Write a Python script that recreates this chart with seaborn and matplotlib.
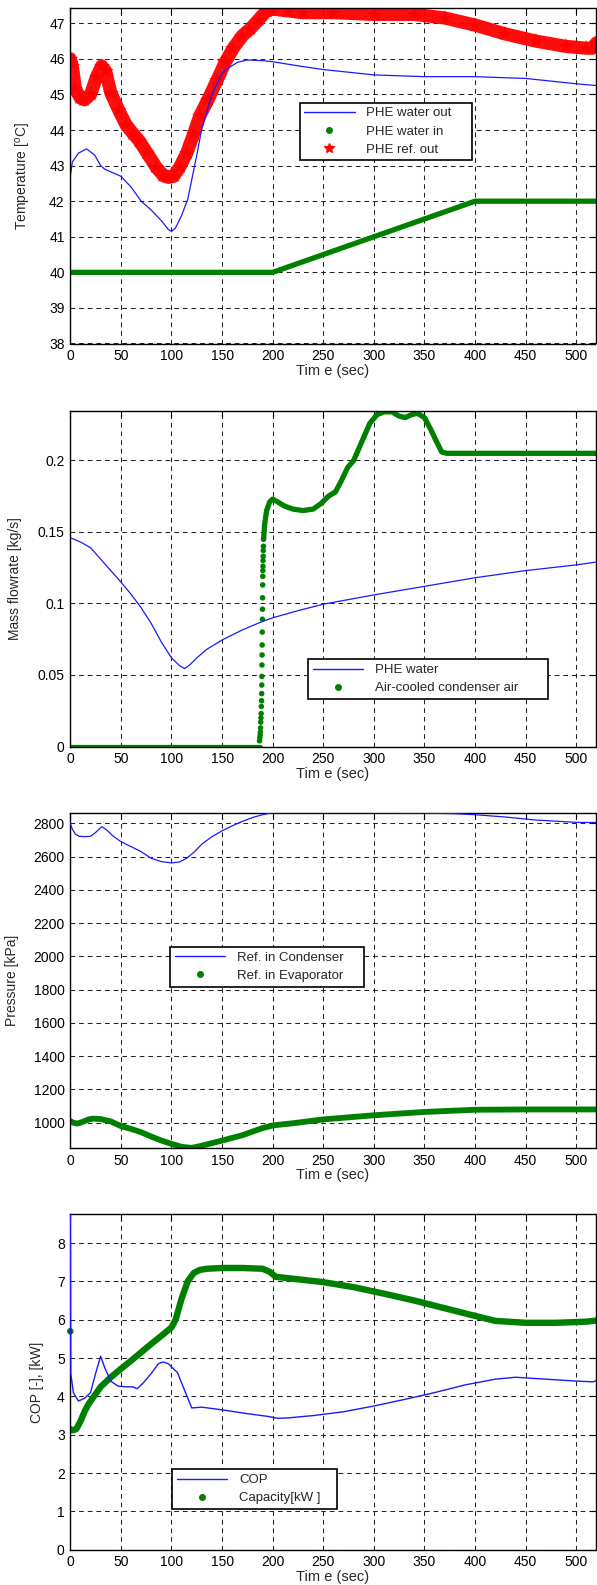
import matplotlib
matplotlib.use("Agg")
import matplotlib.pyplot as plt
from matplotlib.lines import Line2D
import seaborn as sns

# ---------------- data ----------------
# Panel 1: temperatures
t_water_out = [0, 2, 8, 16, 24, 30, 34, 42, 50, 60, 70, 80, 90, 97, 100, 104, 110, 116, 120, 125,
               130, 140, 150, 155, 165, 175, 190, 200, 226, 250, 300, 350, 400, 450, 500, 520]
water_out = [42.7, 43.1, 43.35, 43.47, 43.3, 43.0, 42.9, 42.8, 42.7, 42.4, 42.0, 41.75, 41.45, 41.2, 41.15,
             41.25, 41.6, 42.05, 42.6, 43.3, 44.05, 45.0, 45.6, 45.72, 45.9, 45.97, 45.95, 45.92, 45.8,
             45.7, 45.55, 45.5, 45.5, 45.45, 45.3, 45.25]
t_water_in = [0, 200, 400, 520]
water_in = [40.0, 40.0, 42.0, 42.0]
t_ref_out = [0, 2, 5, 10, 14, 20, 26, 31, 35, 40, 48, 55, 62, 68, 76, 85, 92, 97, 102, 108, 115, 122,
             128, 136, 145, 153, 161, 170, 178, 186, 194, 200, 215, 230, 260, 300, 340, 370, 400, 430,
             460, 490, 510, 516, 520]
ref_out = [46.0, 45.8, 45.15, 44.9, 44.85, 45.0, 45.5, 45.8, 45.65, 45.05, 44.55, 44.15, 43.9, 43.7,
           43.35, 42.95, 42.72, 42.67, 42.7, 42.95, 43.35, 43.9, 44.4, 44.85, 45.4, 45.9, 46.3, 46.65,
           46.85, 47.1, 47.35, 47.4, 47.35, 47.3, 47.3, 47.25, 47.25, 47.15, 46.95, 46.7, 46.5, 46.35,
           46.3, 46.3, 46.45]

# Panel 2: mass flow rates
t_phe = [0, 10, 20, 35, 50, 60, 70, 80, 90, 100, 108, 113, 118, 125, 135, 150, 170, 190, 200, 225,
         250, 300, 350, 400, 450, 500, 520]
phe_water = [0.146, 0.143, 0.139, 0.127, 0.115, 0.1065, 0.097, 0.086, 0.073, 0.062, 0.0565, 0.0545,
             0.057, 0.062, 0.068, 0.0745, 0.0815, 0.0875, 0.09, 0.095, 0.0995, 0.106, 0.112, 0.118,
             0.123, 0.127, 0.129]
t_air_off = [0, 187]
air_off = [0.0, 0.0]
t_air_rise = [187.0, 187.3, 187.6, 187.8, 188.0, 188.2, 188.4, 188.6, 188.8, 189.0,
              189.1, 189.2, 189.3, 189.4, 189.5, 189.6, 189.7, 189.8, 189.9, 190.0,
              190.1, 190.2, 190.3, 190.4, 190.5, 190.6, 190.7, 190.8, 190.9]
air_rise = [0.004, 0.006, 0.008, 0.010, 0.013, 0.017, 0.020, 0.023, 0.028, 0.032,
            0.037, 0.043, 0.049, 0.057, 0.064, 0.071, 0.080, 0.089, 0.096, 0.104,
            0.113, 0.119, 0.123, 0.126, 0.130, 0.133, 0.137, 0.140, 0.145]
t_air_on = [191, 192, 194, 197, 200, 205, 212, 220, 230, 240, 248, 255, 262, 268, 274, 280, 288, 296,
            303, 310, 318, 325, 331, 337, 343, 350, 356, 362, 367, 372, 400, 450, 500, 520]
air_on = [0.145, 0.155, 0.165, 0.171, 0.173, 0.171, 0.168, 0.166, 0.165, 0.166, 0.17, 0.175, 0.178,
          0.186, 0.195, 0.2, 0.213, 0.226, 0.232, 0.234, 0.234, 0.231, 0.230, 0.232, 0.233, 0.230,
          0.222, 0.213, 0.206, 0.205, 0.205, 0.205, 0.205, 0.205]

# Panel 3: pressures
t_cond = [0, 2, 5, 9, 15, 20, 25, 31, 36, 42, 50, 60, 70, 80, 90, 100, 108, 115, 122, 130, 140, 150,
          160, 170, 180, 190, 200, 250, 300, 350, 380, 400, 430, 460, 500, 520]
p_cond = [2800, 2765, 2735, 2722, 2720, 2722, 2745, 2780, 2760, 2725, 2690, 2660, 2630, 2590, 2570,
          2562, 2568, 2590, 2625, 2675, 2720, 2755, 2785, 2812, 2835, 2852, 2864, 2864, 2864, 2862,
          2858, 2852, 2838, 2820, 2806, 2805]
t_evap = [0, 3, 7, 12, 18, 23, 30, 40, 50, 60, 70, 80, 90, 100, 110, 120, 130, 150, 170, 190, 200,
          220, 250, 300, 350, 400, 450, 520]
p_evap = [1010, 1000, 995, 1005, 1020, 1025, 1022, 1008, 980, 963, 943, 917, 893, 873, 855, 849, 862,
          893, 925, 968, 984, 997, 1020, 1045, 1065, 1078, 1080, 1080]

# Panel 4: COP and capacity
t_cop = [0, 0.5, 3, 8, 14, 20, 25, 30, 34, 40, 47, 55, 62, 66, 72, 80, 87, 92, 97, 102, 106, 110,
         120, 130, 150, 175, 195, 205, 215, 240, 270, 300, 330, 360, 390, 420, 440, 470, 500, 517, 520]
cop = [8.8, 4.6, 4.1, 3.88, 3.95, 4.1, 4.6, 5.05, 4.75, 4.4, 4.27, 4.25, 4.25, 4.2, 4.35, 4.6, 4.85,
       4.9, 4.85, 4.72, 4.62, 4.35, 3.7, 3.72, 3.65, 3.55, 3.48, 3.43, 3.44, 3.5, 3.6, 3.75, 3.92, 4.1,
       4.3, 4.45, 4.5, 4.45, 4.4, 4.38, 4.42]
t_cap_first = [0]
cap_first = [5.7]
t_cap = [0, 1, 3, 6, 10, 14, 18, 22, 26, 30, 40, 50, 60, 70, 80, 90, 100, 104, 110, 116, 122, 128,
         135, 150, 170, 190, 197, 203, 220, 250, 280, 310, 340, 370, 400, 420, 450, 480, 510, 520]
capacity = [3.15, 3.12, 3.12, 3.15, 3.35, 3.6, 3.8, 3.95, 4.1, 4.25, 4.5, 4.72, 4.93, 5.15, 5.37, 5.58,
            5.8, 6.0, 6.55, 7.0, 7.22, 7.3, 7.33, 7.35, 7.35, 7.33, 7.25, 7.12, 7.07, 6.98, 6.85, 6.68,
            6.5, 6.3, 6.1, 5.97, 5.92, 5.92, 5.95, 5.98]

x_ticks = [0, 50, 100, 150, 200, 250, 300, 350, 400, 450, 500]
x_label = "Tim e (sec)"

# ---------------- style ----------------
sns.set_style("white")
plt.rcParams["font.family"] = ["Liberation Sans", "DejaVu Sans"]
plt.rcParams["mathtext.fontset"] = "custom"
plt.rcParams["mathtext.rm"] = "Liberation Sans"
plt.rcParams["mathtext.it"] = "Liberation Sans"

BLUE = "#1a1aff"
GREEN = "#008000"
RED = "#ff0000"

W, H = 597, 1585
fig = plt.figure(figsize=(W / 100, H / 100), dpi=100)
left_px, right_px = 70.3, 595.5
tops = [8.0, 411.0, 812.7, 1214.3]
ax_h = 335.5


def make_ax(top):
    bottom = top + ax_h
    return fig.add_axes([left_px / W, 1 - bottom / H, (right_px - left_px) / W, ax_h / H])


def style_ax(ax, ylim, yticks, ylabels, ylabel, ylab_x):
    ax.set_xlim(0, 519)
    ax.set_ylim(*ylim)
    ax.set_xticks(x_ticks)
    ax.set_xticklabels([str(v) for v in x_ticks])
    ax.set_yticks(yticks)
    ax.set_yticklabels(ylabels)
    ax.grid(True, color="#222222", linestyle=(0, (4.5, 3.8)), linewidth=0.75)
    ax.set_axisbelow(True)
    ax.tick_params(direction="in", length=4, width=0.8, top=True, right=True,
                   labelsize=10, pad=4, colors="black")
    for s in ax.spines.values():
        s.set_color("black")
        s.set_linewidth(1.0)
        s.set_zorder(5)
    ax.set_xlabel(x_label, fontsize=10.5)
    ax.xaxis.set_label_coords(0.5, -0.060)
    ax.set_ylabel(ylabel, fontsize=10)
    ax.yaxis.set_label_coords(ylab_x, 0.5)


def add_legend(ax, handles, labels, x0, y1, w):
    leg = ax.legend(handles, labels, loc="upper left", bbox_to_anchor=(x0, y1 - 0.2, w, 0.2),
                    mode="expand", fontsize=9.5, frameon=True, fancybox=False, framealpha=1,
                    edgecolor="black", handlelength=3.8, handletextpad=0.9, borderpad=0.35,
                    labelspacing=0.45, borderaxespad=0)
    leg.get_frame().set_linewidth(1.2)
    leg.set_zorder(10)


blue_h = Line2D([], [], color=BLUE, lw=1.0)
green_h = Line2D([], [], color=GREEN, lw=0, marker="o", markersize=4)
red_h = Line2D([], [], color=RED, lw=0, marker="*", markersize=7)

# ---------------- panel 1 ----------------
ax1 = make_ax(tops[0])
sns.lineplot(x=t_water_in, y=water_in, ax=ax1, color=GREEN, lw=3.8, sort=False,
             solid_capstyle="round", zorder=3)
sns.lineplot(x=t_ref_out, y=ref_out, ax=ax1, color=RED, lw=9.5, sort=False,
             solid_capstyle="round", solid_joinstyle="round", marker="*", markersize=11.5,
             markeredgewidth=0, zorder=3, alpha=0.95)
sns.lineplot(x=t_water_out, y=water_out, ax=ax1, color=BLUE, lw=0.9, sort=False, zorder=4)
style_ax(ax1, (38, 47.43), list(range(38, 48)), [str(v) for v in range(38, 48)],
         r"Temperature [$^{\rm o}$C]", -0.071)
add_legend(ax1, [blue_h, green_h, red_h], ["PHE water out", "PHE water in", "PHE ref. out"],
           0.437, 0.718, 0.327)

# ---------------- panel 2 ----------------
ax2 = make_ax(tops[1])
sns.lineplot(x=t_air_off, y=air_off, ax=ax2, color=GREEN, lw=3.8, sort=False,
             solid_capstyle="round", zorder=3)
sns.scatterplot(x=t_air_rise, y=air_rise, ax=ax2, color=GREEN, s=16, edgecolor="none", zorder=3)
sns.lineplot(x=t_air_on, y=air_on, ax=ax2, color=GREEN, lw=3.8, sort=False,
             solid_capstyle="round", solid_joinstyle="round", zorder=3)
sns.lineplot(x=t_phe, y=phe_water, ax=ax2, color=BLUE, lw=0.9, sort=False, zorder=4)
style_ax(ax2, (0, 0.2346), [0, 0.05, 0.1, 0.15, 0.2], ["0", "0.05", "0.1", "0.15", "0.2"],
         "Mass flowrate [kg/s]", -0.092)
add_legend(ax2, [blue_h, green_h], ["PHE water", "Air-cooled condenser air"], 0.453, 0.2597, 0.456)

# ---------------- panel 3 ----------------
ax3 = make_ax(tops[2])
sns.lineplot(x=t_evap, y=p_evap, ax=ax3, color=GREEN, lw=4.2, sort=False,
             solid_capstyle="round", solid_joinstyle="round", zorder=3)
sns.lineplot(x=t_cond, y=p_cond, ax=ax3, color=BLUE, lw=0.9, sort=False, zorder=6)
p_ticks = list(range(1000, 2801, 200))
style_ax(ax3, (847, 2864), p_ticks, [str(v) for v in p_ticks], "Pressure [kPa]", -0.0985)
add_legend(ax3, [blue_h, green_h], ["Ref. in Condenser", "Ref. in Evaporator"], 0.190, 0.600, 0.369)

# ---------------- panel 4 ----------------
ax4 = make_ax(tops[3])
sns.lineplot(x=t_cap, y=capacity, ax=ax4, color=GREEN, lw=4.6, sort=False,
             solid_capstyle="round", solid_joinstyle="round", zorder=3)
sns.scatterplot(x=t_cap_first, y=cap_first, ax=ax4, color=GREEN, s=22, edgecolor="none",
                zorder=3, clip_on=False)
sns.lineplot(x=t_cop, y=cop, ax=ax4, color=BLUE, lw=1.0, sort=False, zorder=6)
style_ax(ax4, (0, 8.75), list(range(0, 9)), [str(v) for v in range(0, 9)], "COP [-], [kW]", -0.050)
add_legend(ax4, [blue_h, green_h], ["COP", "Capacity[kW ]"], 0.1945, 0.2397, 0.314)

fig.savefig("out.png", dpi=100)
